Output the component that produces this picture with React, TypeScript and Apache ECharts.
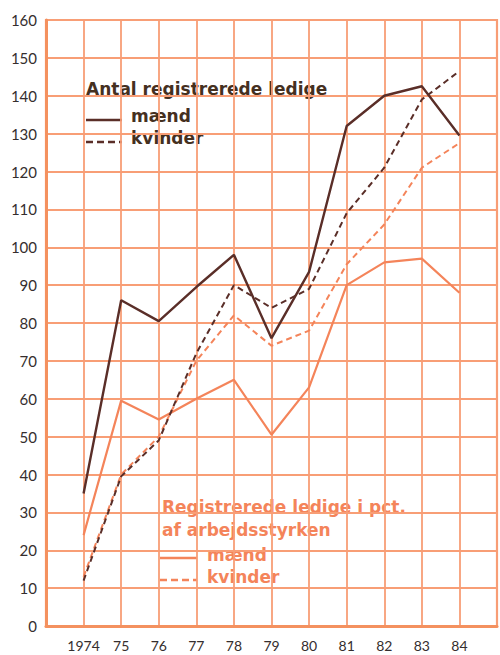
import React, { useEffect, useRef } from "react";
import * as echarts from "echarts";

const years = [1974, 1975, 1976, 1977, 1978, 1979, 1980, 1981, 1982, 1983, 1984];
const absMen = [35, 86, 80.5, 89.5, 98, 76, 93.5, 132, 140, 142.5, 129.5];
const absWomen = [12, 39.5, 49, 72, 90, 84, 89, 109, 121, 139, 146.5];
const pctMen = [24, 59.5, 54.5, 60, 65, 50.5, 63, 90, 96, 97, 88];
const pctWomen = [13, 40, 50, 70, 82, 74, 78, 95.5, 106, 121, 127.5];
const yTicks = [0, 10, 20, 30, 40, 50, 60, 70, 80, 90, 100, 110, 120, 130, 140, 150, 160];

const DARK = "#5a2e28";
const DARK_TEXT = "#45301f";
const ORANGE = "#f4845a";
const GRID = "#f89e76";
const AXIS_TEXT = "#352e2e";
const FONT = "Lato, 'Open Sans', sans-serif";
const LEGEND_FONT = "'DejaVu Sans', sans-serif";

const pairs = (vals: number[]) => years.map((y, i) => [y, vals[i]]);

export default function App() {
  const ref = useRef<HTMLDivElement>(null);
  useEffect(() => {
    if (!ref.current) return;
    const chart = echarts.init(ref.current, undefined, { renderer: "svg" });
    chart.setOption({
      animation: false,
      backgroundColor: "#ffffff",
      grid: {
        left: 46,
        top: 20,
        right: 1,
        bottom: 29,
        show: true,
        borderColor: GRID,
        borderWidth: 2.2,
      },
      xAxis: {
        type: "value",
        min: 1973,
        max: 1985,
        interval: 1,
        axisLine: { show: true, lineStyle: { color: "#f4915f", width: 3 } },
        axisTick: { show: false },
        splitLine: { show: true, lineStyle: { color: GRID, width: 1.8 } },
        axisLabel: {
          color: AXIS_TEXT,
          fontFamily: FONT,
          fontSize: 14,
          margin: 12,
          formatter: (v: number) => {
            if (v === years[0]) return String(v);
            if (years.indexOf(v) >= 0) return String(v % 100);
            return "";
          },
        },
      },
      yAxis: {
        type: "value",
        min: yTicks[0],
        max: yTicks[yTicks.length - 1],
        interval: 10,
        axisLine: { show: true, lineStyle: { color: "#f4915f", width: 3 } },
        axisTick: { show: false },
        splitLine: { show: true, lineStyle: { color: GRID, width: 1.8 } },
        axisLabel: {
          color: AXIS_TEXT,
          fontFamily: FONT,
          fontSize: 15,
          margin: 9,
        },
      },
      series: [
        {
          type: "line",
          data: pairs(pctMen),
          symbol: "none",
          lineStyle: { color: ORANGE, width: 2.2 },
        },
        {
          type: "line",
          data: pairs(pctWomen),
          symbol: "none",
          lineStyle: { color: ORANGE, width: 2, type: [6, 4] },
        },
        {
          type: "line",
          data: pairs(absWomen),
          symbol: "none",
          lineStyle: { color: DARK, width: 2, type: [6, 4] },
        },
        {
          type: "line",
          data: pairs(absMen),
          symbol: "none",
          lineStyle: { color: DARK, width: 2.4 },
        },
      ],
      graphic: [
        {
          type: "text",
          left: 86,
          top: 80,
          style: {
            text: "Antal registrerede ledige",
            fill: DARK_TEXT,
            font: `bold 17px ${LEGEND_FONT}`,
          },
        },
        {
          type: "line",
          shape: { x1: 86, y1: 120, x2: 122, y2: 120 },
          style: { stroke: DARK, lineWidth: 2.4 },
        },
        {
          type: "text",
          left: 131,
          top: 107,
          style: { text: "mænd", fill: DARK_TEXT, font: `bold 17px ${LEGEND_FONT}` },
        },
        {
          type: "line",
          shape: { x1: 86, y1: 142, x2: 122, y2: 142 },
          style: { stroke: DARK, lineWidth: 2.4, lineDash: [7, 4] },
        },
        {
          type: "text",
          left: 131,
          top: 129,
          style: { text: "kvinder", fill: DARK_TEXT, font: `bold 17px ${LEGEND_FONT}` },
        },
        {
          type: "text",
          left: 162,
          top: 495,
          style: {
            text: "Registrerede ledige i pct.\naf arbejdsstyrken",
            fill: ORANGE,
            font: `bold 17px ${LEGEND_FONT}`,
            lineHeight: 23,
          },
        },
        {
          type: "line",
          shape: { x1: 160, y1: 558, x2: 197, y2: 558 },
          style: { stroke: ORANGE, lineWidth: 2.4 },
        },
        {
          type: "text",
          left: 207,
          top: 546,
          style: { text: "mænd", fill: ORANGE, font: `bold 17px ${LEGEND_FONT}` },
        },
        {
          type: "line",
          shape: { x1: 160, y1: 580, x2: 197, y2: 580 },
          style: { stroke: ORANGE, lineWidth: 2.4, lineDash: [7, 4] },
        },
        {
          type: "text",
          left: 207,
          top: 568,
          style: { text: "kvinder", fill: ORANGE, font: `bold 17px ${LEGEND_FONT}` },
        },
      ],
    });
    return () => chart.dispose();
  }, []);
  return (
    <div
      ref={ref}
      style={{ position: "fixed", left: 0, top: 0, width: 500, height: 655, background: "#fff" }}
    />
  );
}
